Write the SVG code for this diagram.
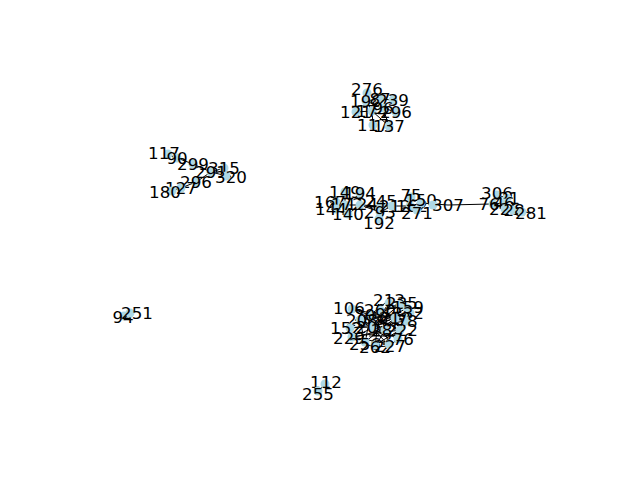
<svg xmlns="http://www.w3.org/2000/svg" width="640" height="480" viewBox="0 0 640 480">
<style>
.e{stroke:#000;stroke-width:1;fill:none}
.n circle{fill:#add8e6}
.n text{font-family:"DejaVu Sans",sans-serif;font-size:16.7px;text-anchor:middle;dominant-baseline:central;fill:#000}
</style>
<rect width="640" height="480" fill="#fff"/>
<g id="edges" class="e">
<path d="M367 89L366 101L380 99L393 100M366 101L372 111L373 125M356 112L372 111L383 108L396 112M383 108L389 126M372 111L389 126M366 101L383 108M380 99L372 111"/>
<path d="M164 153L177 158L193 164L211 172L224 168L231 177M211 172L196 182L181 188L165 192M211 172L231 177"/>
<path d="M330 202L345 205L360 205L381 206L392 206L410 206L421 203L448 205L491 204M345 192L345 205M360 193L360 205M331 209L348 214M348 214L360 205M380 212L381 206M379 223L380 212M411 195L410 206M417 213L410 206M345 205L348 214M336 202L336 209M360 205L380 212M392 206L380 212"/>
<path d="M491 204L504 203L497 193M504 203L507 196M504 203L505 209L513 210L531 213M493 204L505 209M497 195L507 198"/>
<path d="M123 317L131 313"/>
<path d="M325 382L318 394"/>
<path d="M349 308L370 315L389 300M370 315L402 303L407 307L410 313M370 315L407 321L398 339M346 328L370 315L349 338M370 315L365 344L375 347L389 346L398 339M360 320L385 330L395 318L380 310L360 320M385 330L375 347M395 318L407 321M380 310L389 346M360 320L365 344M385 330L349 338M395 318L410 313M372 327L402 303M372 327L346 328M372 327L389 346M360 320L380 310M352 309L395 318M352 309L385 330M389 303L385 330M389 303L372 327M400 305L360 320M407 308L372 327M410 313L360 320M407 321L350 328M400 330L370 315M400 330L352 337M400 330L375 345M398 339L360 320M389 344L352 337M365 342L395 318M375 345L380 310M380 310L407 321M390 320L376 322M392 336L369 336M356 318L388 338M378 304L398 326M364 332L402 314"/>
</g>
<g id="n276" class="n"><circle cx="367" cy="93" r="4.5"/><text x="367" y="89">276</text></g>
<g id="n198" class="n"><circle cx="366" cy="101" r="4.5"/><text x="366" y="101">198</text></g>
<g id="n87" class="n"><circle cx="380" cy="99" r="4.5"/><text x="380" y="99">87</text></g>
<g id="n239" class="n"><circle cx="393" cy="100" r="4.5"/><text x="393" y="100">239</text></g>
<g id="n121" class="n"><circle cx="356" cy="112" r="4.5"/><text x="356" y="112">121</text></g>
<g id="n174" class="n"><circle cx="372" cy="111" r="4.5"/><text x="372" y="111">174</text></g>
<g id="n96" class="n"><circle cx="383" cy="108" r="4.5"/><text x="383" y="108">96</text></g>
<g id="n296b" class="n"><circle cx="396" cy="112" r="4.5"/><text x="396" y="112">296</text></g>
<g id="n117b" class="n"><circle cx="373" cy="125" r="4.5"/><text x="373" y="125">117</text></g>
<g id="n137" class="n"><circle cx="389" cy="126" r="4.5"/><text x="389" y="126">137</text></g>

<g id="n117" class="n"><circle cx="168" cy="154" r="4.5"/><text x="164" y="153">117</text></g>
<g id="n90" class="n"><circle cx="177" cy="158" r="4.5"/><text x="177" y="158">90</text></g>
<g id="n299" class="n"><circle cx="193" cy="164" r="4.5"/><text x="193" y="164">299</text></g>
<g id="n315" class="n"><circle cx="224" cy="168" r="4.5"/><text x="224" y="168">315</text></g>
<g id="n291" class="n"><circle cx="211" cy="172" r="4.5"/><text x="211" y="172">291</text></g>
<g id="n320" class="n"><circle cx="226" cy="176" r="4.5"/><text x="231" y="177">320</text></g>
<g id="n296" class="n"><circle cx="196" cy="182" r="4.5"/><text x="196" y="182">296</text></g>
<g id="n127" class="n"><circle cx="181" cy="188" r="4.5"/><text x="181" y="188">127</text></g>
<g id="n180" class="n"><circle cx="172" cy="191" r="4.5"/><text x="165" y="192">180</text></g>

<g id="n149" class="n"><circle cx="345" cy="192" r="4.5"/><text x="345" y="192">149</text></g>
<g id="n194" class="n"><circle cx="360" cy="193" r="4.5"/><text x="360" y="193">194</text></g>
<g id="n167" class="n"><circle cx="336" cy="202" r="4.5"/><text x="330" y="202">167</text></g>
<g id="n172" class="n"><circle cx="345" cy="205" r="4.5"/><text x="347" y="204">172</text></g>
<g id="n144" class="n"><circle cx="336" cy="209" r="4.5"/><text x="331" y="209">144</text></g>
<g id="n140" class="n"><circle cx="348" cy="214" r="4.5"/><text x="348" y="214">140</text></g>
<g id="n124" class="n"><circle cx="360" cy="205" r="4.5"/><text x="362" y="204">124</text></g>
<g id="n245" class="n"><circle cx="381" cy="206" r="4.5"/><text x="381" y="201">245</text></g>
<g id="n293" class="n"><circle cx="380" cy="212" r="4.5"/><text x="380" y="212">293</text></g>
<g id="n192" class="n"><circle cx="379" cy="219" r="4.5"/><text x="379" y="223">192</text></g>
<g id="n212" class="n"><circle cx="392" cy="206" r="4.5"/><text x="395" y="206">212</text></g>
<g id="n75" class="n"><circle cx="411" cy="197" r="4.5"/><text x="411" y="195">75</text></g>
<g id="n162" class="n"><circle cx="410" cy="206" r="4.5"/><text x="412" y="206">162</text></g>
<g id="n150" class="n"><circle cx="421" cy="203" r="4.5"/><text x="421" y="200">150</text></g>
<g id="n271" class="n"><circle cx="417" cy="210" r="4.5"/><text x="417" y="213">271</text></g>
<g id="n307" class="n"><circle cx="433" cy="205" r="4.5"/><text x="448" y="205">307</text></g>

<g id="n306" class="n"><circle cx="497" cy="195" r="4.5"/><text x="497" y="193">306</text></g>
<g id="n21" class="n"><circle cx="507" cy="198" r="4.5"/><text x="509" y="198">21</text></g>
<g id="n76" class="n"><circle cx="493" cy="204" r="4.5"/><text x="489" y="204">76</text></g>
<g id="n46" class="n"><circle cx="504" cy="203" r="4.5"/><text x="504" y="203">46</text></g>
<g id="n226" class="n"><circle cx="505" cy="209" r="4.5"/><text x="505" y="209">226</text></g>
<g id="n28" class="n"><circle cx="513" cy="210" r="4.5"/><text x="514" y="210">28</text></g>
<g id="n281" class="n"><circle cx="522" cy="212" r="4.5"/><text x="531" y="213">281</text></g>

<g id="n94" class="n"><circle cx="124" cy="316" r="4.5"/><text x="123" y="317">94</text></g>
<g id="n251" class="n"><circle cx="130" cy="313" r="4.5"/><text x="137" y="313">251</text></g>
<g id="n112" class="n"><circle cx="325" cy="384" r="4.5"/><text x="326" y="382">112</text></g>
<g id="n255" class="n"><circle cx="318" cy="391" r="4.5"/><text x="318" y="394">255</text></g>

<g id="n106" class="n"><circle cx="352" cy="309" r="4.5"/><text x="349" y="308">106</text></g>
<g id="n213" class="n"><circle cx="389" cy="303" r="4.5"/><text x="389" y="300">213</text></g>
<g id="n235" class="n"><circle cx="400" cy="305" r="4.5"/><text x="402" y="303">235</text></g>
<g id="n159" class="n"><circle cx="407" cy="308" r="4.5"/><text x="408" y="307">159</text></g>
<g id="n232" class="n"><circle cx="410" cy="313" r="4.5"/><text x="408" y="313">232</text></g>
<g id="n201" class="n"><circle cx="370" cy="315" r="4.5"/><text x="370" y="315">201</text></g>
<g id="n260" class="n"><circle cx="380" cy="310" r="4.5"/><text x="380" y="310">260</text></g>
<g id="n208" class="n"><circle cx="360" cy="320" r="4.5"/><text x="362" y="320">208</text></g>
<g id="n218" class="n"><circle cx="395" cy="318" r="4.5"/><text x="395" y="318">218</text></g>
<g id="n78" class="n"><circle cx="407" cy="321" r="4.5"/><text x="407" y="321">78</text></g>
<g id="n152" class="n"><circle cx="350" cy="328" r="4.5"/><text x="346" y="328">152</text></g>
<g id="n203" class="n"><circle cx="372" cy="327" r="4.5"/><text x="372" y="327">203</text></g>
<g id="n285" class="n"><circle cx="385" cy="330" r="4.5"/><text x="387" y="330">285</text></g>
<g id="n222" class="n"><circle cx="400" cy="330" r="4.5"/><text x="402" y="330">222</text></g>
<g id="n229" class="n"><circle cx="352" cy="337" r="4.5"/><text x="349" y="338">229</text></g>
<g id="n256" class="n"><circle cx="365" cy="342" r="4.5"/><text x="365" y="344">256</text></g>
<g id="n276b" class="n"><circle cx="398" cy="339" r="4.5"/><text x="398" y="339">276</text></g>
<g id="n262" class="n"><circle cx="375" cy="345" r="4.5"/><text x="375" y="347">262</text></g>
<g id="n227" class="n"><circle cx="389" cy="344" r="4.5"/><text x="390" y="346">227</text></g>
</svg>
